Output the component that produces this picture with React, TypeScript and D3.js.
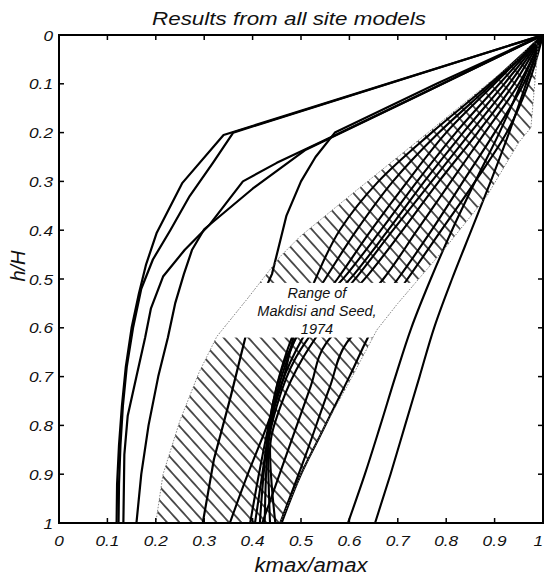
import React from 'react';
import * as d3 from 'd3';

type P = [number, number];

const WIDTH = 544;
const HEIGHT = 576;

const titleText = 'Results from all site models';
const xLabelText = 'kmax/amax';
const yLabelText = 'h/H';
const tickValues = [0, 0.1, 0.2, 0.3, 0.4, 0.5, 0.6, 0.7, 0.8, 0.9, 1];
const tickLabels = ['0', '0.1', '0.2', '0.3', '0.4', '0.5', '0.6', '0.7', '0.8', '0.9', '1'];
const rangeLabelLines = ['Range of', 'Makdisi and Seed,', '1974'];
const rangeLabelBand = [0.508, 0.62];

// Site model curves with kinks: [kmax/amax, h/H]
const curveA: P[] = [[1, 0], [0.34, 0.205], [0.255, 0.303], [0.202, 0.405], [0.18, 0.47], [0.165, 0.53], [0.15, 0.6], [0.138, 0.68], [0.13, 0.76], [0.124, 0.84], [0.12, 0.92], [0.119, 1]];
const curveB: P[] = [[1, 0], [0.36, 0.2], [0.318, 0.262], [0.27, 0.33], [0.23, 0.4], [0.194, 0.46], [0.17, 0.52], [0.153, 0.6], [0.14, 0.68], [0.132, 0.76], [0.127, 0.84], [0.124, 0.92], [0.123, 1]];
const curveC: P[] = [[1, 0], [0.74, 0.125], [0.54, 0.22], [0.45, 0.262], [0.38, 0.3], [0.31, 0.39], [0.26, 0.44], [0.215, 0.495], [0.19, 0.56], [0.178, 0.62], [0.16, 0.7], [0.142, 0.78], [0.135, 0.86], [0.133, 1]];
const curveD: P[] = [[1, 0], [0.73, 0.13], [0.51, 0.235], [0.4, 0.315], [0.3, 0.398], [0.275, 0.44], [0.258, 0.49], [0.24, 0.55], [0.225, 0.62], [0.205, 0.7], [0.185, 0.8], [0.17, 0.9], [0.16, 1]];
const curveE: P[] = [[1, 0], [0.78, 0.1], [0.57, 0.2], [0.53, 0.25], [0.5, 0.3], [0.47, 0.37], [0.44, 0.49], [0.39, 0.6], [0.355, 0.74], [0.32, 0.87], [0.297, 1]];
// Smooth site model curves
const curveK1: P[] = [[1, 0], [0.89, 0.1], [0.77, 0.2], [0.66, 0.3], [0.58, 0.4], [0.53, 0.5], [0.49, 0.6], [0.463, 0.706], [0.43, 0.8], [0.39, 0.9], [0.353, 1]];
const curveK2: P[] = [[1, 0], [0.895, 0.1], [0.785, 0.2], [0.69, 0.3], [0.615, 0.4], [0.55, 0.5], [0.49, 0.6], [0.455, 0.7], [0.433, 0.8], [0.413, 0.9], [0.395, 1]];
const curveK3: P[] = [[1, 0], [0.9, 0.1], [0.8, 0.2], [0.72, 0.3], [0.645, 0.4], [0.575, 0.5], [0.5, 0.6], [0.46, 0.7], [0.436, 0.8], [0.42, 0.9], [0.405, 1]];
const curveK4: P[] = [[1, 0], [0.91, 0.1], [0.82, 0.2], [0.74, 0.3], [0.665, 0.4], [0.595, 0.49], [0.515, 0.58], [0.47, 0.66], [0.443, 0.75], [0.428, 0.85], [0.415, 1]];
const curveK5: P[] = [[1, 0], [0.92, 0.1], [0.835, 0.2], [0.755, 0.3], [0.68, 0.4], [0.61, 0.49], [0.53, 0.58], [0.478, 0.67], [0.446, 0.76], [0.43, 0.86], [0.425, 1]];
const curveK6: P[] = [[1, 0], [0.93, 0.1], [0.85, 0.2], [0.77, 0.3], [0.69, 0.4], [0.62, 0.49], [0.545, 0.58], [0.49, 0.66], [0.45, 0.76], [0.432, 0.85], [0.436, 1]];
const curveK7: P[] = [[1, 0], [0.94, 0.1], [0.865, 0.2], [0.785, 0.3], [0.71, 0.4], [0.64, 0.49], [0.56, 0.58], [0.505, 0.66], [0.458, 0.76], [0.436, 0.85], [0.447, 1]];
const curveK8: P[] = [[1, 0], [0.95, 0.1], [0.88, 0.2], [0.81, 0.3], [0.74, 0.4], [0.67, 0.5], [0.6, 0.58], [0.553, 0.63], [0.52, 0.72], [0.47, 0.86], [0.42, 1]];
const curveK9: P[] = [[1, 0], [0.96, 0.1], [0.9, 0.2], [0.835, 0.3], [0.77, 0.4], [0.7, 0.5], [0.63, 0.59], [0.595, 0.63], [0.56, 0.72], [0.51, 0.86], [0.457, 1]];
const curveK10: P[] = [[1, 0], [0.97, 0.1], [0.925, 0.2], [0.86, 0.3], [0.79, 0.4], [0.72, 0.5], [0.655, 0.59], [0.6, 0.7], [0.54, 0.82], [0.5, 0.9], [0.46, 1]];
const curveR1: P[] = [[1, 0], [0.955, 0.1], [0.91, 0.2], [0.86, 0.3], [0.812, 0.4], [0.768, 0.5], [0.728, 0.6], [0.695, 0.7], [0.664, 0.8], [0.632, 0.9], [0.597, 1]];
const curveR2: P[] = [[1, 0], [0.965, 0.1], [0.93, 0.2], [0.892, 0.3], [0.852, 0.4], [0.812, 0.5], [0.775, 0.6], [0.745, 0.7], [0.715, 0.8], [0.685, 0.9], [0.653, 1]];

const kinkedCurves: P[][] = [curveA, curveB, curveC, curveD, curveE];
const smoothCurves: P[][] = [curveK1, curveK2, curveK3, curveK4, curveK5, curveK6, curveK7, curveK8, curveK9, curveK10, curveR1, curveR2];

// Makdisi & Seed (1974) range boundaries
const rangeUpperBound: P[] = [[0.98, 0.015], [0.946, 0.051], [0.75, 0.21], [0.6, 0.33], [0.498, 0.413], [0.457, 0.454], [0.388, 0.542], [0.326, 0.618], [0.29, 0.69], [0.25, 0.79], [0.215, 0.9], [0.2, 1]];
const rangeLowerBound: P[] = [[0.457, 1], [0.5, 0.9], [0.55, 0.8], [0.595, 0.72], [0.657, 0.604], [0.7, 0.55], [0.8, 0.434], [0.884, 0.33], [0.95, 0.22], [0.975, 0.19], [0.99, 0.02]];

export default function App() {
  const left = 59, right = 543, top = 35, bottom = 523;
  const x = d3.scaleLinear().domain([0, 1]).range([left, right]);
  const y = d3.scaleLinear().domain([0, 1]).range([top, bottom]);
  const line = d3.line<P>().x(d => x(d[0])).y(d => y(d[1])).curve(d3.curveLinear);
  const smoothLine = d3.line<P>().x(d => x(d[0])).y(d => y(d[1])).curve(d3.curveMonotoneY);
  const rangePoly = [...rangeUpperBound, ...rangeLowerBound];
  const rangePath = line(rangePoly) + 'Z';
  const font = "'Liberation Sans', Arial, Helvetica, sans-serif";
  const tickLen = 5;
  const labelCx = x(0.533);
  const labelTopY = y(rangeLabelBand[0]);
  const labelBotY = y(rangeLabelBand[1]);

  return (
    <svg width={WIDTH} height={HEIGHT} style={{ position: 'absolute', left: 0, top: 0, background: '#fff' }} fontFamily={font}>
      <defs>
        <pattern id="hatch" patternUnits="userSpaceOnUse" width={9.2} height={20} patternTransform="rotate(-42)">
          <line x1={4.6} y1={-2} x2={4.6} y2={22} stroke="#111" strokeWidth={1.4} />
        </pattern>
        <clipPath id="plotClip">
          <rect x={left} y={top} width={right - left} height={bottom - top} />
        </clipPath>
        <clipPath id="rangeClip">
          <path d={rangePath} />
        </clipPath>
      </defs>
      <rect x={0} y={0} width={WIDTH} height={HEIGHT} fill="#fff" />
      <g clipPath="url(#plotClip)">
        <path d={rangePath} fill="url(#hatch)" />
        {smoothCurves.map((c, i) => (
          <path key={'s' + i} d={smoothLine(c) || ''} fill="none" stroke="#000" strokeWidth={2.1} strokeLinejoin="round" />
        ))}
        {kinkedCurves.map((c, i) => (
          <path key={'k' + i} d={line(c) || ''} fill="none" stroke="#000" strokeWidth={2.2} strokeLinejoin="round" />
        ))}
        <rect x={left} y={labelTopY} width={right - left} height={labelBotY - labelTopY} fill="#fff" clipPath="url(#rangeClip)" />
        <path d={rangePath} fill="none" stroke="#777" strokeWidth={0.9} strokeDasharray="1.5,1.5" />
      </g>
      {rangeLabelLines.map((t, i) => (
        <text key={i} x={labelCx} y={labelTopY + 15 + i * 18} textAnchor="middle" fontSize={14.5} fontStyle="italic" fill="#111">{t}</text>
      ))}
      <rect x={left} y={top} width={right - left} height={bottom - top} fill="none" stroke="#000" strokeWidth={2} />
      {tickValues.map((v, i) => (
        <g key={'t' + i}>
          <line x1={x(v)} x2={x(v)} y1={bottom} y2={bottom - tickLen} stroke="#000" strokeWidth={1.5} />
          <line x1={x(v)} x2={x(v)} y1={top} y2={top + tickLen} stroke="#000" strokeWidth={1.5} />
          <line x1={left} x2={left + tickLen} y1={y(v)} y2={y(v)} stroke="#000" strokeWidth={1.5} />
          <line x1={right} x2={right - tickLen} y1={y(v)} y2={y(v)} stroke="#000" strokeWidth={1.5} />
          <g transform={`translate(${v === 1 ? WIDTH - 1 : x(v)},${bottom + 23}) scale(1.15,1)`}>
            <text textAnchor={v === 1 ? 'end' : 'middle'} fontSize={15} fontStyle="italic" fill="#111">{tickLabels[i]}</text>
          </g>
          <g transform={`translate(${left - 6},${y(v) + 5.5}) scale(1.15,1)`}>
            <text textAnchor="end" fontSize={15} fontStyle="italic" fill="#111">{tickLabels[i]}</text>
          </g>
        </g>
      ))}
      <text x={289} y={25} textAnchor="middle" fontSize={17.5} fontStyle="italic" fill="#111" textLength={274} lengthAdjust="spacingAndGlyphs">{titleText}</text>
      <text x={311} y={572} textAnchor="middle" fontSize={20} fontStyle="italic" fill="#111" textLength={113} lengthAdjust="spacingAndGlyphs">{xLabelText}</text>
      <text transform={`translate(25,266) rotate(-90)`} textAnchor="middle" fontSize={20} fontStyle="italic" fill="#111">{yLabelText}</text>
    </svg>
  );
}
